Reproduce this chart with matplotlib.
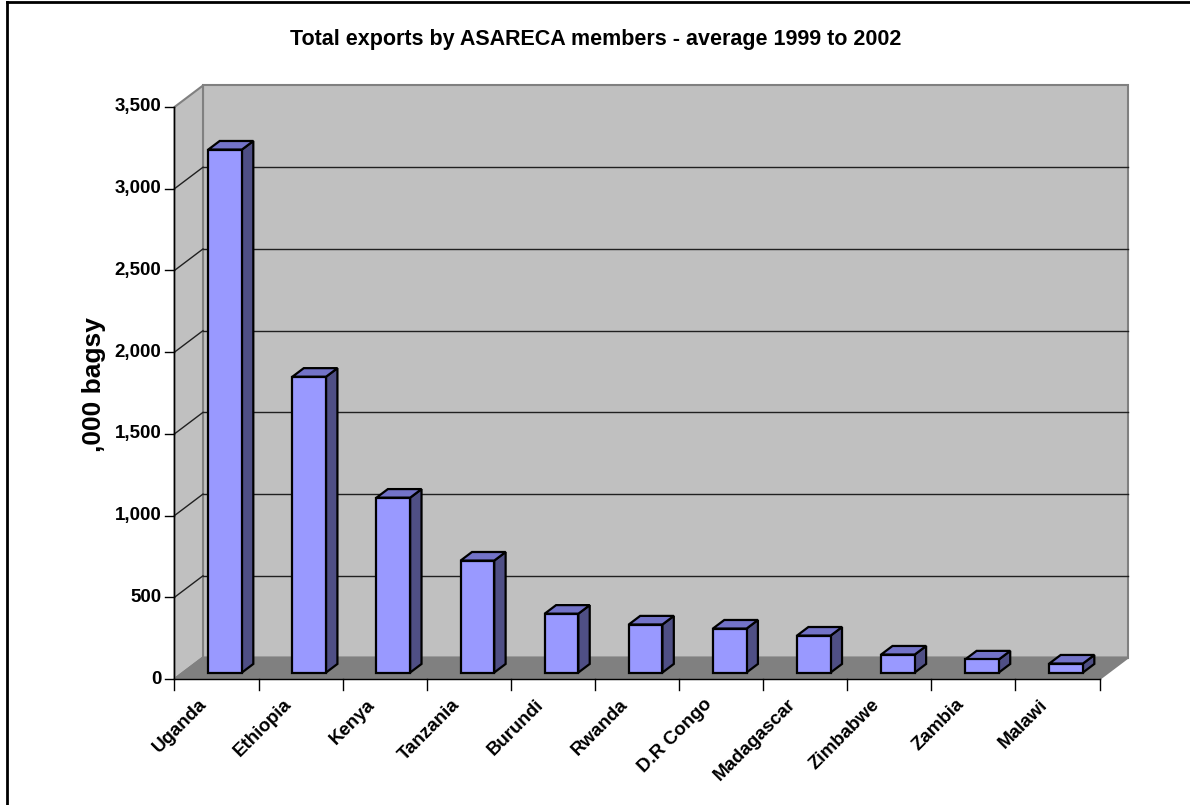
import matplotlib
matplotlib.use("Agg")
import matplotlib.pyplot as plt
from matplotlib.patches import Polygon
from matplotlib.lines import Line2D

plt.rcParams['font.family'] = ['Liberation Sans', 'DejaVu Sans']

# ---------------- data ----------------
title = "Total exports by ASARECA members - average 1999 to 2002"
y_label = ",000 bagsy"
countries = ["Uganda", "Ethiopia", "Kenya", "Tanzania", "Burundi", "Rwanda",
             "D.R Congo", "Madagascar", "Zimbabwe", "Zambia", "Malawi"]
exports = [3200, 1810, 1070, 685, 360, 294, 269, 226, 110, 80, 55]
y_ticks = [0, 500, 1000, 1500, 2000, 2500, 3000, 3500]
y_tick_labels = ["0", "500", "1,000", "1,500", "2,000", "2,500", "3,000", "3,500"]

# ---------------- layout (pixel geometry) ----------------
W, H = 1190, 805
X0_PX, CAT_PX = 174.5, 84.1          # front axis origin and category width
Y0_PX, V_PX = 679.0, 572.0 / 3500.0   # front axis baseline and px per unit
DEPTH_XPX, DEPTH_YPX = 28.5, 21.5     # 3-D depth offset of back wall

fig = plt.figure(figsize=(W / 100, H / 100), dpi=100)
ax = fig.add_axes([0, 0, 1, 1])
ax.set_xlim(-X0_PX / CAT_PX, (W - X0_PX) / CAT_PX)
ax.set_ylim((Y0_PX - H) / V_PX, Y0_PX / V_PX)
ax.axis("off")

px_x = 1.0 / CAT_PX   # one pixel in x data units
px_y = 1.0 / V_PX     # one pixel in y data units
DX = DEPTH_XPX * px_x
DY = DEPTH_YPX * px_y
n = len(countries)
vmax = y_ticks[-1]

wall_c = "#c0c0c0"
floor_c = "#808080"
edge_c = "#808080"

# back wall
ax.add_patch(Polygon([(DX, DY), (n + DX, DY), (n + DX, vmax + DY), (DX, vmax + DY)],
                     closed=True, facecolor=wall_c, edgecolor=edge_c, lw=1.5, zorder=1))
# side wall
ax.add_patch(Polygon([(0, 0), (DX, DY), (DX, vmax + DY), (0, vmax)],
                     closed=True, facecolor=wall_c, edgecolor=edge_c, lw=1.5, zorder=1))
# floor
ax.add_patch(Polygon([(0, 0), (n, 0), (n + DX, DY), (DX, DY)],
                     closed=True, facecolor=floor_c, edgecolor=edge_c, lw=1.5, zorder=2))

# gridlines
for v in y_ticks[1:-1]:
    ax.add_line(Line2D([DX, n + DX], [v + DY, v + DY], color="#202020", lw=1.0, zorder=2))
    ax.add_line(Line2D([0, DX], [v, v + DY], color="#202020", lw=1.0, zorder=2))

# bars
d0, d1 = 0.30, 0.70
bx0, bx1 = 0.30, 0.70
front_c, top_c, side_c = "#9999ff", "#7373c8", "#4f4f85"
for i, v in enumerate(exports):
    x0 = i + bx0 + d0 * DX
    x1 = i + bx1 + d0 * DX
    yb = d0 * DY
    yt = v + d0 * DY
    ddx = (d1 - d0) * DX
    ddy = (d1 - d0) * DY
    ax.add_patch(Polygon([(x1, yb), (x1 + ddx, yb + ddy), (x1 + ddx, yt + ddy), (x1, yt)],
                         closed=True, facecolor=side_c, edgecolor="black", lw=1.6, zorder=5))
    ax.add_patch(Polygon([(x0, yt), (x1, yt), (x1 + ddx, yt + ddy), (x0 + ddx, yt + ddy)],
                         closed=True, facecolor=top_c, edgecolor="black", lw=1.6, zorder=5))
    ax.add_patch(Polygon([(x0, yb), (x1, yb), (x1, yt), (x0, yt)],
                         closed=True, facecolor=front_c, edgecolor="black", lw=1.6, zorder=6))

# axes lines
ax.add_line(Line2D([0, 0], [0, vmax], color="black", lw=1.0, zorder=7))
ax.add_line(Line2D([0, n], [0, 0], color="black", lw=1.0, zorder=7))
for v, lab in zip(y_ticks, y_tick_labels):
    ax.add_line(Line2D([-9 * px_x, 0], [v, v], color="black", lw=1.0, zorder=7))
    ax.text(-13 * px_x, v, lab, ha="right", va="center", fontsize=13.5,
            fontweight="bold", zorder=8)
for i in range(n + 1):
    ax.add_line(Line2D([i, i], [0, -11 * px_y], color="black", lw=1.0, zorder=7))
for i, c in enumerate(countries):
    ax.text(i + 0.5 - 6 * px_x, -17 * px_y, c, ha="right", va="top", rotation=45,
            fontsize=13.5, fontweight="bold", zorder=8)

# axis label and title
ax.text((94 - X0_PX) * px_x, (Y0_PX - 385) * px_y, y_label, rotation=90,
        ha="center", va="center", fontsize=19, fontweight="bold")
ax.text((596 - X0_PX) * px_x, (Y0_PX - 40) * px_y, title, ha="center", va="center",
        fontsize=15.5, fontweight="bold")

# outer border (left and top edges visible)
ax.add_line(Line2D([(7 - X0_PX) * px_x] * 2, [(Y0_PX - 2) * px_y, (Y0_PX - H) * px_y],
                   color="black", lw=2.0, zorder=9))
ax.add_line(Line2D([(7 - X0_PX) * px_x, (W - X0_PX) * px_x], [(Y0_PX - 2) * px_y] * 2,
                   color="black", lw=2.0, zorder=9))

fig.savefig("out.png", dpi=100)
